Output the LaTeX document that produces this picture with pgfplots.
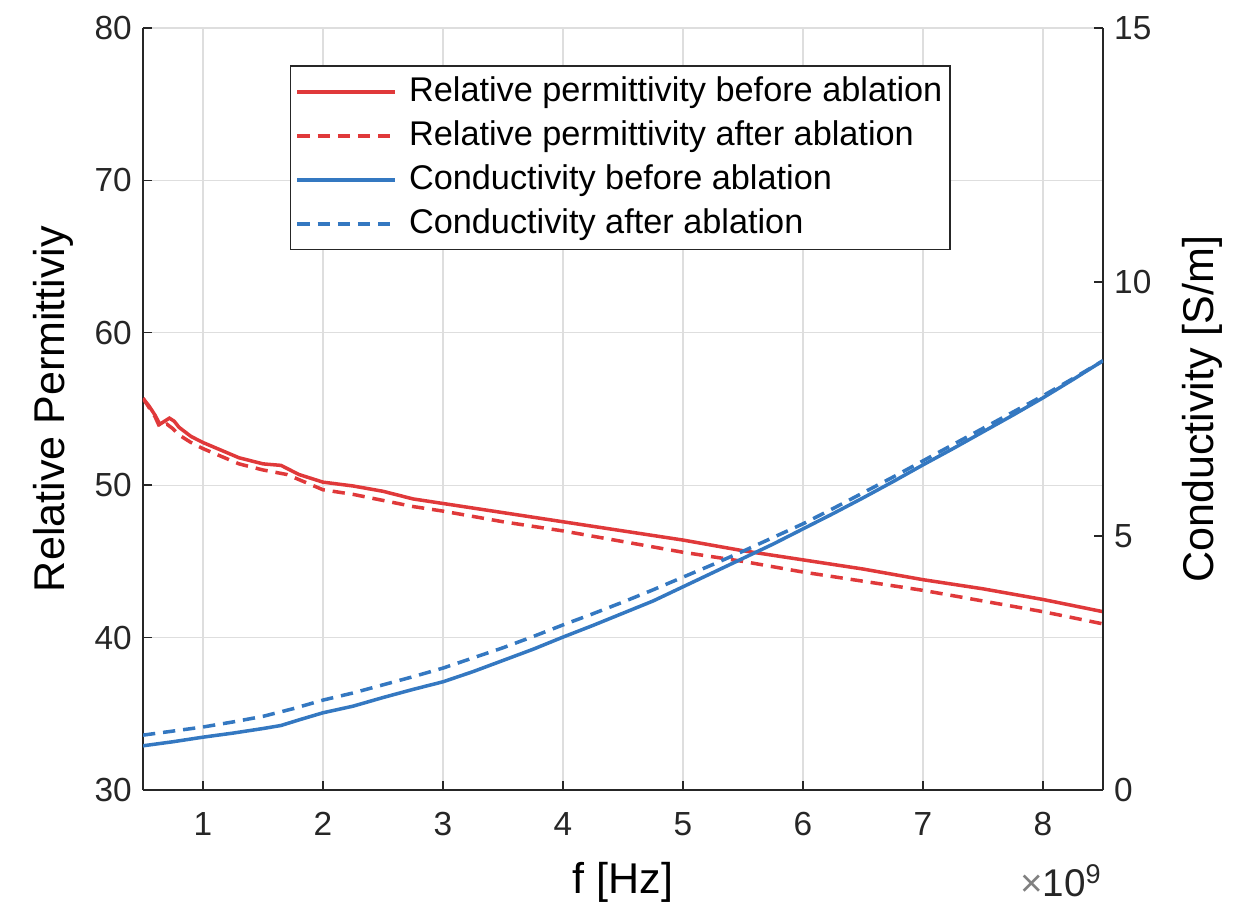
\documentclass[border=0pt]{standalone}
\usepackage{fontspec}
\setmainfont{Liberation Sans}
\usepackage{pgfplots}
\pgfplotsset{compat=1.18}
\definecolor{RedL}{HTML}{E0393A}
\definecolor{BlueL}{HTML}{3478C1}
\definecolor{AxC}{HTML}{262626}
\definecolor{GridC}{HTML}{DEDEDE}

\newcommand{\tickfont}{\fontsize{19}{22}\selectfont}
\newcommand{\labfont}{\fontsize{24.5}{28}\selectfont}

\begin{document}
\begin{tikzpicture}
\pgfplotsset{
  every axis/.append style={
    scale only axis,width=19.2cm,height=15.24cm,at={(0,0)},anchor=south west,
    xmin=0.5,xmax=8.5,
    tick align=inside,major tick length=0.18cm,
    tick style={AxC,line width=0.8pt},
    axis line style={-,draw=AxC,line width=0.9pt},
    tick label style={font=\tickfont,text=AxC},
    label style={font=\labfont,text=black},
    /pgf/number format/assume math mode=true,
  },
}
\begin{axis}[
  axis x line*=bottom,axis y line*=left,
  ymin=30,ymax=80,ytick={30,40,...,80},
  xtick={1,...,8},
  grid=major,grid style={GridC,line width=0.6pt},
  xticklabel style={yshift=-0.32cm},
  yticklabel style={xshift=-0.1cm},
  xlabel={f [Hz]},
  xlabel style={at={(axis description cs:0.5,0)},anchor=center,yshift=-1.85cm},
  ylabel={Relative Permittiviy},
  ylabel style={at={(axis description cs:0,0.5)},anchor=center,yshift=1.8cm},
]
% relative permittivity before ablation
\addplot[RedL,line width=2pt] coordinates {
(0.50,55.7) (0.55,55.2) (0.60,54.6) (0.64,54.0) (0.68,54.2) (0.72,54.4) (0.76,54.2)
(0.80,53.8) (0.90,53.2) (1.00,52.8) (1.15,52.3) (1.30,51.8) (1.50,51.4) (1.65,51.3)
(1.80,50.7) (2.00,50.2) (2.25,49.95) (2.50,49.6) (2.75,49.1) (3.00,48.8) (3.25,48.5)
(3.50,48.2) (3.75,47.9) (4.00,47.6) (4.25,47.3) (4.50,47.0) (4.75,46.7) (5.00,46.4)
(5.25,46.05) (5.50,45.7) (5.75,45.4) (6.00,45.1) (6.25,44.8) (6.50,44.5) (6.75,44.15)
(7.00,43.8) (7.25,43.5) (7.50,43.2) (7.75,42.85) (8.00,42.5) (8.25,42.1) (8.50,41.7)
};
% relative permittivity after ablation
\addplot[RedL,line width=2pt,dash pattern=on 7pt off 4.5pt] coordinates {
(0.50,55.7) (0.55,55.1) (0.60,54.5) (0.64,53.8) (0.70,54.0) (0.75,53.7) (0.80,53.3)
(0.90,52.8) (1.00,52.4) (1.15,51.9) (1.30,51.4) (1.50,51.0) (1.70,50.7) (1.85,50.2)
(2.00,49.7) (2.25,49.4) (2.50,49.0) (2.75,48.6) (3.00,48.3) (3.25,47.95) (3.50,47.6)
(3.75,47.3) (4.00,47.0) (4.25,46.65) (4.50,46.3) (4.75,45.95) (5.00,45.6) (5.25,45.3)
(5.50,45.0) (5.75,44.65) (6.00,44.3) (6.25,44.0) (6.50,43.7) (6.75,43.4) (7.00,43.1)
(7.25,42.75) (7.50,42.4) (7.75,42.05) (8.00,41.7) (8.25,41.3) (8.50,40.9)
};
\end{axis}

\begin{axis}[
  axis x line=none,axis y line*=right,
  ymin=0,ymax=15,ytick={0,5,10,15},
  yticklabel style={xshift=0.1cm},
  ylabel={Conductivity [S/m]},
  ylabel style={at={(axis description cs:1,0.5)},anchor=center,yshift=-1.98cm},
  legend style={at={(0.153,0.951)},anchor=north west,draw=AxC,line width=0.8pt,
    font=\fontsize{19.5}{22}\selectfont,fill=white,
    inner xsep=0.1cm,inner ysep=0.15cm,row sep=0.15cm,column sep=0.2cm,
    nodes={text height=0.5cm,text depth=0.13cm,inner sep=0.05cm}},
  legend cell align=left,
  legend image code/.code={\draw[#1] (0cm,0cm) -- (1.95cm,0cm);},
]
\addlegendimage{RedL,line width=2pt}
\addlegendentry{Relative permittivity before ablation}
\addlegendimage{RedL,line width=2pt,dash pattern=on 7pt off 4.5pt}
\addlegendentry{Relative permittivity after ablation}
% conductivity before ablation
\addplot[BlueL,line width=2pt] coordinates {
(0.50,0.87) (0.75,0.95) (1.00,1.04) (1.25,1.12) (1.50,1.21) (1.65,1.27) (1.80,1.38)
(2.00,1.52) (2.25,1.65) (2.50,1.82) (2.75,1.98) (3.00,2.13) (3.25,2.33) (3.50,2.55)
(3.75,2.77) (4.00,3.01) (4.25,3.24) (4.50,3.48) (4.75,3.72) (5.00,4.00) (5.25,4.28)
(5.50,4.56) (5.75,4.84) (6.00,5.14) (6.25,5.44) (6.50,5.75) (6.75,6.07) (7.00,6.40)
(7.25,6.72) (7.50,7.05) (7.75,7.38) (8.00,7.72) (8.25,8.08) (8.50,8.45)
};
\addlegendentry{Conductivity before ablation}
% conductivity after ablation
\addplot[BlueL,line width=2pt,dash pattern=on 7pt off 4.5pt] coordinates {
(0.50,1.08) (0.75,1.16) (1.00,1.24) (1.25,1.34) (1.50,1.45) (1.75,1.60) (2.00,1.77)
(2.25,1.91) (2.50,2.07) (2.75,2.23) (3.00,2.40) (3.25,2.60) (3.50,2.80) (3.75,3.02)
(4.00,3.25) (4.25,3.47) (4.50,3.70) (4.75,3.94) (5.00,4.19) (5.25,4.44) (5.50,4.70)
(5.75,4.97) (6.00,5.24) (6.25,5.54) (6.50,5.85) (6.75,6.16) (7.00,6.48) (7.25,6.80)
(7.50,7.12) (7.75,7.44) (8.00,7.76) (8.25,8.10) (8.50,8.45)
};
\addlegendentry{Conductivity after ablation}
\end{axis}

\node[anchor=east,font=\fontsize{22}{24}\selectfont,text=AxC,inner sep=0pt] at (19.18,-1.82)
  {{\color{gray}×}10\textsuperscript{9}};
\path[use as bounding box] (-2.86,-2.32) rectangle (22.2,15.8);
\end{tikzpicture}
\end{document}
